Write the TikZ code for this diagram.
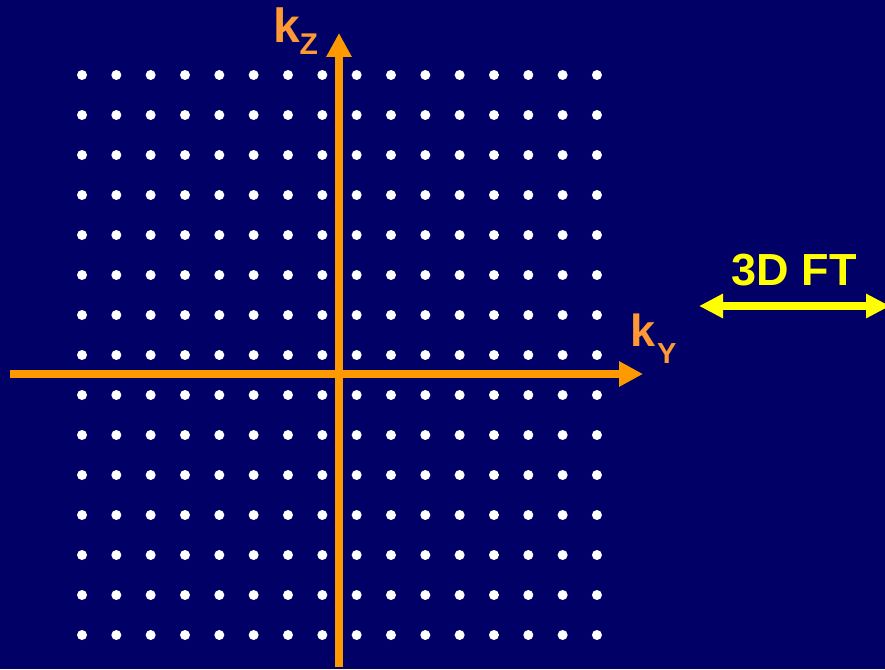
\documentclass[tikz,border=0pt]{standalone}
\usepackage{fontspec}
\setmainfont{Liberation Sans}
\usetikzlibrary{arrows.meta}
\definecolor{bg}{HTML}{000066}
\definecolor{axis}{HTML}{FF9900}
\definecolor{lbl}{HTML}{FF9933}
\definecolor{ylw}{HTML}{FFFF00}
\tikzset{
  dot/.style={circle,fill=white,inner sep=0pt,minimum size=10pt},
  axisline/.style={draw=axis,line width=8pt,-{Triangle[width=24pt,length=24pt]}},
  ftarrow/.style={draw=ylw,line width=8pt,{Triangle[width=23pt,length=24pt]}-{Triangle[width=23pt,length=24pt]}},
  lab/.style={anchor=base west,inner sep=0pt,text=lbl,font=\bfseries},
}
\begin{document}
\begin{tikzpicture}[x=1pt,y=-1pt]
\fill[bg] (0,0) rectangle (885,669);
\useasboundingbox (0,0) rectangle (885,669);
\foreach \i in {0,...,15}{
  \foreach \j in {0,...,14}{
    \node[dot] (d-\i-\j) at ({82+\i*34.33},{75+\j*40}) {};
  }
}
\coordinate (zs) at (339,667);
\coordinate (ze) at (339,33);
\coordinate (ys) at (10,374);
\coordinate (ye) at (643,374);
\draw[axisline] (ys) -- (ye);
\draw[axisline] (zs) -- (ze);
\node[lab,font=\bfseries\fontsize{48}{48}\selectfont] (kz) at (273,42) {k};
\node[lab,font=\bfseries\fontsize{30}{30}\selectfont] (kzs) at (299.5,55) {Z};
\node[lab,font=\bfseries\fontsize{45}{45}\selectfont] (ky) at (630,346.5) {k};
\node[lab,font=\bfseries\fontsize{29}{29}\selectfont] (kys) at (657,363) {Y};
\node[anchor=base west,inner sep=0pt,text=ylw,font=\bfseries\fontsize{45}{45}\selectfont] (ft) at (731.5,285) {3D FT};
\coordinate (fl) at (699,306);
\coordinate (fr) at (890,306);
\draw[ftarrow] (fl) -- (fr);
\end{tikzpicture}
\end{document}
